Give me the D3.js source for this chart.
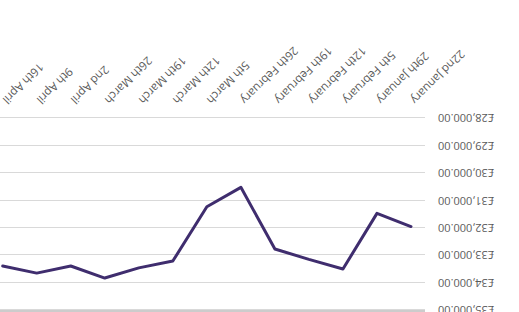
<!DOCTYPE html>
<html>
<head>
<meta charset="utf-8">
<script src="https://cdn.jsdelivr.net/npm/d3@7"></script>
<style>
  html, body { margin: 0; padding: 0; background: #fff; }
  svg { display: block; }
  text { font-family: 'Open Sans', sans-serif; fill: #595959; }
</style>
</head>
<body>
<svg id="chart" width="519" height="312"></svg>
<script>
var weeks = ['22nd January', '29th January', '5th February', '12th February',
  '19th February', '26th February', '5th March', '12th March', '19th March',
  '26th March', '2nd April', '9th April', '16th April'];
var amounts = [31950, 31470, 33500, 33150, 32770, 30520, 31230, 33210,
  33460, 33830, 33390, 33650, 33390];
var yTicks = [28000, 29000, 30000, 31000, 32000, 33000, 34000, 35000];

var width = 519, height = 312;

var svg = d3.select('#chart');

// The reference is shown upside down, so draw normally and flip the lot
var root = svg.append('g')
  .attr('transform', 'rotate(180 ' + width / 2 + ' ' + height / 2 + ')');

var x = d3.scalePoint()
  .domain(weeks)
  .range([108, 516.3]);

var y = d3.scaleLinear()
  .domain([28000, 35000])
  .range([193.7, 1.9]);

var fmt = function (d) {
  return '£' + d3.format(',.2f')(d);
};

// Gridlines
root.append('g')
  .selectAll('line')
  .data(yTicks)
  .enter()
  .append('line')
  .attr('x1', 94)
  .attr('x2', width + 2)
  .attr('y1', function (d) { return Math.round(y(d)) + 0.5; })
  .attr('y2', function (d) { return Math.round(y(d)) + 0.5; })
  .attr('stroke', '#d9d9d9')
  .attr('stroke-width', 1);

// chart area edge at the very top
root.append('line')
  .attr('x1', 94)
  .attr('x2', width + 2)
  .attr('y1', 1)
  .attr('y2', 1)
  .attr('stroke', '#cccccc')
  .attr('stroke-width', 2);

// Y labels
root.append('g')
  .selectAll('text')
  .data(yTicks)
  .enter()
  .append('text')
  .attr('x', 81)
  .attr('y', function (d) { return y(d); })
  .attr('dy', '0.35em')
  .attr('text-anchor', 'end')
  .style('font-size', '11px')
  .text(fmt);

// X labels, slanted
root.append('g')
  .selectAll('text')
  .data(weeks)
  .enter()
  .append('text')
  .attr('transform', function (d) {
    return 'translate(' + (x(d) - 2) + ',' + 210 + ') rotate(-45)';
  })
  .attr('dy', '0.35em')
  .attr('text-anchor', 'end')
  .style('font-size', '11.5px')
  .text(function (d) { return d; });

// Series line
var line = d3.line()
  .x(function (d, i) { return x(weeks[i]); })
  .y(function (d) { return y(d); });

root.append('path')
  .datum(amounts)
  .attr('d', line)
  .attr('fill', 'none')
  .attr('stroke', '#3f2d6e')
  .attr('stroke-width', 3)
  .attr('stroke-linejoin', 'round')
  .attr('stroke-linecap', 'round');
</script>
</body>
</html>
